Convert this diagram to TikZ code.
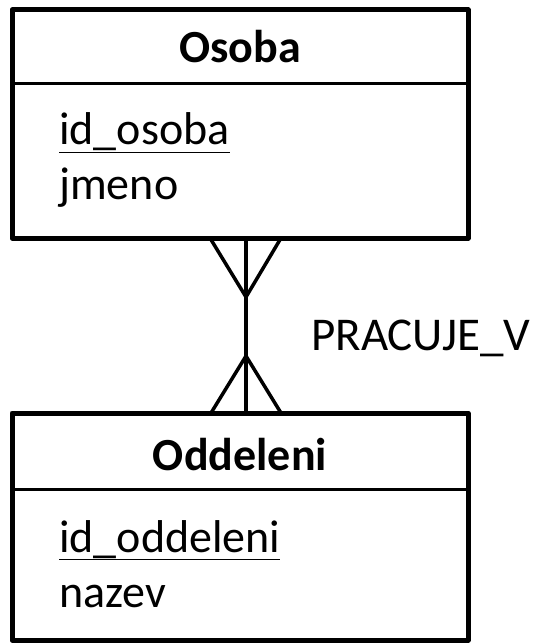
\documentclass[tikz,border=0pt]{standalone}
\usepackage{fontspec}
\setmainfont{Carlito}
\begin{document}
\begin{tikzpicture}[x=1pt,y=-1pt,
  box/.style={draw, line width=5pt, line join=round},
  sep/.style={draw, line width=3pt},
  conn/.style={draw, line width=3.5pt},
  txt/.style={inner sep=0pt, anchor=base west, font=\fontsize{46}{50}\selectfont},
  head/.style={inner sep=0pt, anchor=base, font=\fontsize{46}{50}\selectfont\bfseries}]
\useasboundingbox (0,0) rectangle (535,644);
% Osoba
\draw[box] (12,10) rectangle (468,238);
\draw[sep] (12,84) -- (468,84);
\node[head] (osoba) at (240,63) {Osoba};
\node[txt] (a1) at (59,145) {\underline{id\_osoba}};
\node[txt] (a2) at (59,200) {jmeno};
% Oddeleni
\draw[box] (12,413) rectangle (468,640);
\draw[sep] (12,489) -- (468,489);
\node[head] (odd) at (240,470) {Oddeleni};
\node[txt] (b1) at (59,552) {\underline{id\_oddeleni}};
\node[txt] (b2) at (59,607) {nazev};
% connector
\coordinate (t) at (246,238);
\coordinate (b) at (246,413);
\coordinate (tap) at (246,297);
\coordinate (bap) at (246,356);
\draw[conn] (t) -- (b);
\draw[conn] (210,238) -- (tap) -- (281,238);
\draw[conn] (211,413) -- (bap) -- (281,413);
\node[txt, font=\fontsize{47}{50}\selectfont] (rel) at (311,350) {PRACUJE\_V};
\end{tikzpicture}
\end{document}
